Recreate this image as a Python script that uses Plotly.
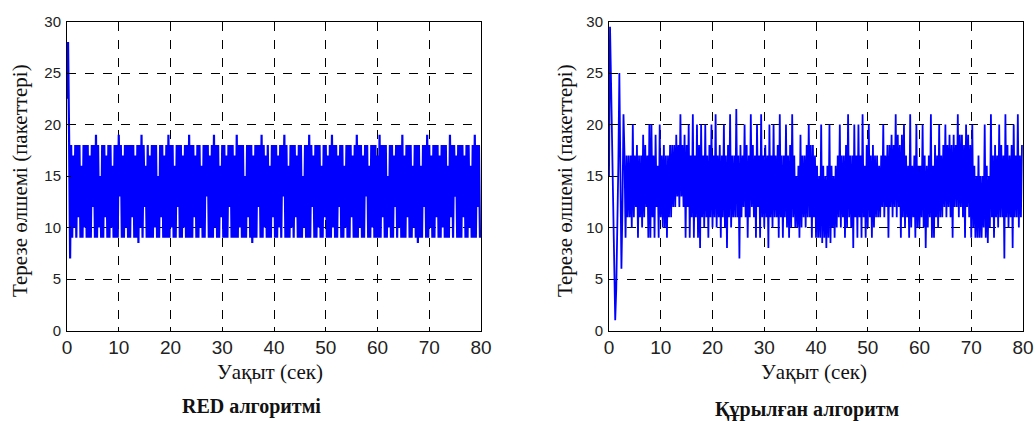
import plotly.graph_objects as go
from plotly.subplots import make_subplots

W, H = 1035, 421
dt = 0.2  # sampling step, seconds

# RED algorithm: window size (packets), one value every 0.2 s
red_window = [
    22.5, 28, 19, 7, 18, 9, 17, 10, 18, 9, 18, 11, 18, 9, 16, 9, 18, 10, 18, 9,
    18, 9, 17, 9, 18, 12, 18, 9, 19, 9, 18, 10, 15, 9, 18, 9, 18, 11, 17, 9,
    18, 9, 18, 10, 16, 9, 18, 9, 18, 9, 19, 13, 18, 9, 17, 9, 18, 10, 18, 9,
    18, 9, 18, 11, 18, 9, 17, 9, 18, 8.5, 18, 10, 19, 9, 18, 12, 16, 9, 18, 9,
    17, 9, 18, 9, 18, 10, 18, 9, 15, 9, 18, 11, 18, 9, 17, 9, 18, 9, 19, 9,
    18, 10, 18, 9, 16, 9, 18, 12, 18, 9, 18, 9, 17, 10, 18, 9, 18, 9, 19, 9,
    18, 9, 18, 11, 17, 9, 18, 9, 18, 10, 16, 9, 18, 9, 18, 13, 18, 9, 17, 9,
    18, 9, 19, 10, 18, 9, 18, 9, 16, 11, 18, 9, 18, 9, 17, 9, 18, 12, 18, 9,
    18, 9, 17, 9, 19, 9, 18, 10, 18, 9, 18, 9, 15, 9, 18, 11, 18, 9, 18, 8.5,
    17, 9, 18, 9, 18, 12, 18, 9, 19, 9, 18, 10, 17, 9, 18, 9, 16, 9, 18, 11,
    18, 9, 18, 9, 17, 10, 18, 9, 18, 13, 19, 9, 18, 9, 16, 9, 18, 10, 18, 9,
    18, 11, 17, 9, 18, 9, 18, 9, 15, 10, 18, 9, 18, 9, 19, 9, 18, 12, 17, 9,
    18, 9, 18, 10, 18, 9, 16, 9, 18, 11, 18, 9, 17, 9, 18, 9, 19, 10, 18, 9,
    18, 9, 17, 12, 18, 9, 18, 9, 16, 10, 18, 9, 18, 9, 18, 11, 17, 9, 18, 9,
    19, 9, 18, 10, 18, 9, 17, 9, 18, 13, 18, 9, 16, 9, 18, 10, 18, 9, 18, 9,
    17, 9, 19, 9, 18, 11, 18, 9, 18, 9, 15, 10, 18, 9, 18, 9, 17, 12, 18, 9,
    18, 10, 18, 9, 19, 9, 17, 9, 18, 11, 18, 9, 18, 9, 16, 10, 18, 9, 18, 8.5,
    18, 9, 16, 9, 18, 12, 18, 9, 19, 9, 18, 10, 17, 9, 18, 9, 18, 11, 18, 9,
    17, 9, 18, 10, 18, 9, 18, 9, 16, 9, 19, 11, 18, 9, 18, 13, 17, 9, 18, 9,
    18, 9, 18, 11, 17, 9, 18, 9, 18, 10, 16, 9, 18, 9, 19, 9, 18, 12, 18, 9,
]

# Proposed algorithm: window size (packets), one value every 0.2 s
new_window = [
    15, 29.5, 24, 17, 10, 5, 1, 4, 9, 16, 25, 13, 6, 12, 21, 17, 9, 17, 11, 17,
    11, 17, 10, 20, 11, 17, 12, 18, 9, 17, 11, 17, 10, 19, 11, 18, 12, 17, 9, 20,
    9, 20, 11, 17, 9, 19, 12, 16, 9, 20, 11, 17, 10, 18, 10, 17, 9, 17, 11, 18,
    11, 18, 12, 18, 12, 19, 13, 18, 12, 21, 13, 18, 12, 19, 9, 18, 12, 20, 9, 17,
    11, 21, 9, 17, 11, 20, 9, 18, 8, 20, 11, 17, 10, 20, 11, 17, 9, 18, 11, 20,
    10, 17, 11, 21, 10, 17, 11, 18, 9, 17, 11, 20, 10, 17, 8, 18, 11, 21, 10, 17,
    11, 17, 11, 21.5, 11, 17, 7, 18, 11, 17, 12, 20, 11, 18, 9, 17, 11, 21, 12, 18,
    11, 17, 9, 20, 12, 17, 9, 21, 11, 17, 10, 18, 11, 17, 8, 20, 11, 17, 10, 20,
    11, 17, 11, 18, 9, 21, 11, 17, 9, 17, 11, 20, 10, 17, 9, 18, 10, 21, 11, 17,
    10, 15, 10, 16, 9, 19, 10, 17, 11, 17, 10, 18, 11, 20, 11, 18, 9, 18, 11, 17,
    9, 16, 9, 15, 9, 20, 8.5, 16, 9, 15, 8, 16, 9, 20, 8.5, 16, 10, 15, 9, 16,
    10, 17, 11, 20, 10, 17, 11, 17, 9, 18, 10, 21, 11, 17, 10, 17, 8, 20, 11, 17,
    9, 20, 11, 17, 9, 21, 11, 16, 9, 18, 10, 20, 11, 17, 9, 18, 10, 17, 11, 17,
    11, 16, 11, 17, 12, 20, 11, 17, 12, 18, 9, 18, 12, 19, 11, 18, 12, 21, 11, 19,
    12, 18, 9, 19, 11, 20, 10, 17, 11, 16, 9, 21, 10, 16, 11, 17, 9, 20, 10, 16,
    10, 16, 11, 20, 10, 17, 8, 16, 10, 17, 11, 21, 9, 16, 9, 18, 11, 17, 10, 20,
    11, 17, 11, 18, 12, 20, 11, 18, 12, 19, 11, 18, 9, 19, 12, 18, 12, 21, 11, 19,
    12, 19, 11, 18, 9, 20, 12, 19, 11, 18, 9, 20, 10, 16, 9, 15, 9, 17, 9, 15,
    9, 15, 10, 20, 9, 16, 8.5, 15, 10, 21, 11, 17, 9, 18, 11, 17, 10, 20, 11, 18,
    11, 17, 7, 21, 11, 18, 10, 17, 11, 18, 8, 20, 11, 17, 11, 21, 10, 17, 11, 18,
]

x_ticks = [0, 10, 20, 30, 40, 50, 60, 70, 80]
y_ticks = [0, 5, 10, 15, 20, 25, 30]
x_title = "Уақыт (сек)"
y_title = "Терезе өлшемі (пакеттері)"
subtitles = ["RED алгоритмі", "Құрылған алгоритм"]

t_red = [i * dt for i in range(len(red_window))]
t_new = [i * dt for i in range(len(new_window))]

fig = make_subplots(rows=1, cols=2)
fig.add_trace(go.Scatter(x=t_red, y=red_window, mode="lines",
                         line=dict(color="#0000FF", width=2.2), showlegend=False), 1, 1)
fig.add_trace(go.Scatter(x=t_new, y=new_window, mode="lines",
                         line=dict(color="#0000FF", width=1.8), showlegend=False), 1, 2)

def px_x(p):
    return p / W

def px_y(p):
    return 1 - p / H

xdoms = [[px_x(67), px_x(481)], [px_x(609), px_x(1023)]]
ydom = [px_y(330.5), px_y(21.5)]

axis_common = dict(
    showline=True, mirror=True, linecolor="black", linewidth=1,
    ticks="inside", ticklen=4, tickcolor="black",
    showgrid=True, gridcolor="black", griddash="dash", gridwidth=1,
    zeroline=False, automargin=False,
)

for i in range(2):
    xa = "xaxis" if i == 0 else "xaxis2"
    ya = "yaxis" if i == 0 else "yaxis2"
    fig.layout[xa].update(domain=xdoms[i], range=[0, 80], tickvals=x_ticks,
                          tickfont=dict(family="Liberation Sans", size=19, color="#222"),
                          **axis_common)
    fig.layout[ya].update(domain=ydom, range=[0, 30], tickvals=y_ticks,
                          tickfont=dict(family="Liberation Sans", size=15, color="#222"),
                          ticklabelstandoff=2, **axis_common)

serif = "Liberation Serif"
ann = []
# y titles
for cx in (20, 565):
    ann.append(dict(text=y_title, x=px_x(cx), y=px_y(181), xref="paper", yref="paper",
                    textangle=-90, showarrow=False, xanchor="center", yanchor="middle",
                    font=dict(family=serif, size=21, color="#111")))
# x titles
for cx in (270, 814):
    ann.append(dict(text=x_title, x=px_x(cx), y=px_y(372), xref="paper", yref="paper",
                    showarrow=False, xanchor="center", yanchor="middle",
                    font=dict(family=serif, size=21, color="#111")))
# subtitles
for cx, cy, s in ((251, 406, subtitles[0]), (807, 409, subtitles[1])):
    ann.append(dict(text="<b>" + s + "</b>", x=px_x(cx), y=px_y(cy), xref="paper", yref="paper",
                    showarrow=False, xanchor="center", yanchor="middle",
                    font=dict(family=serif, size=20, color="#111")))

fig.update_layout(
    width=W, height=H, margin=dict(l=0, r=0, t=0, b=0),
    paper_bgcolor="white", plot_bgcolor="white",
    annotations=ann,
)

fig.write_html("out.html", config={"displayModeBar": False},
               post_script="document.body.style.margin='0';")
